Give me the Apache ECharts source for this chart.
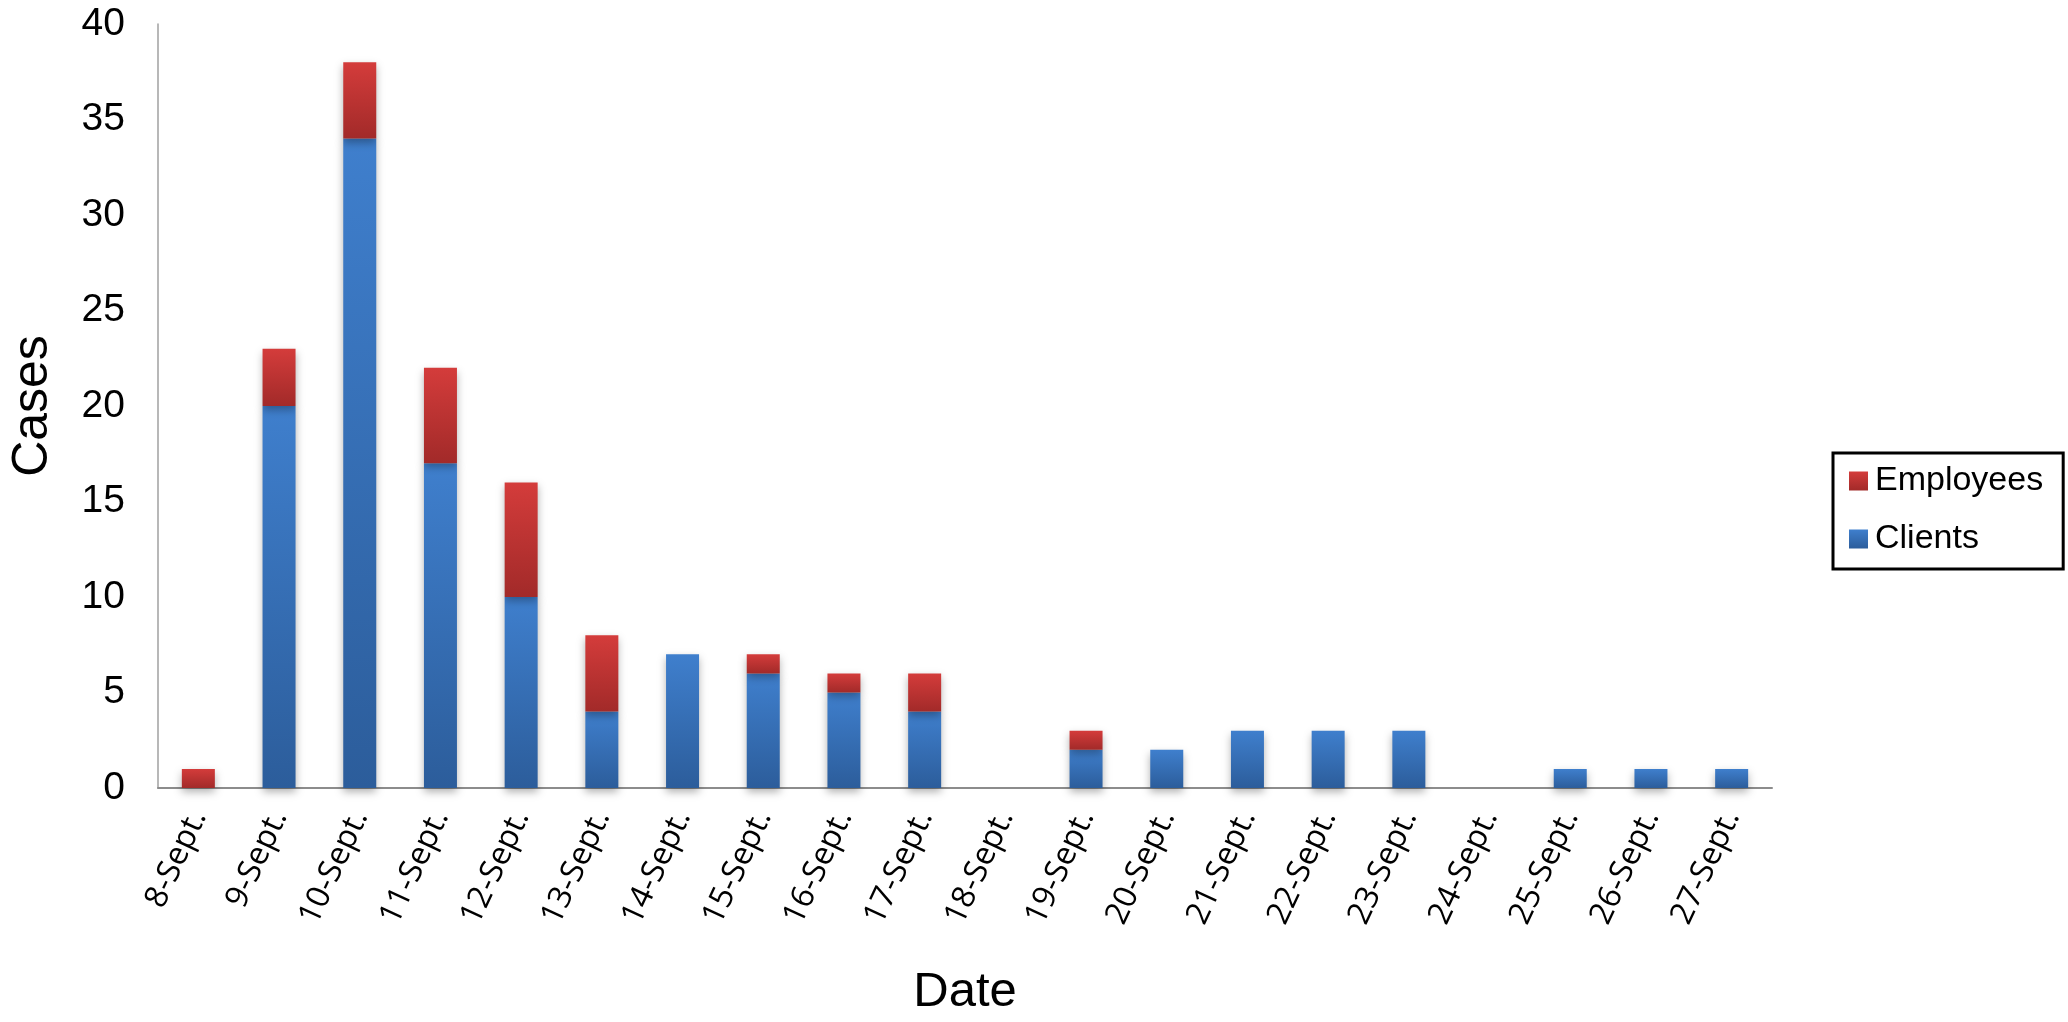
<!DOCTYPE html>
<html>
<head>
<meta charset="utf-8">
<script src="https://cdn.jsdelivr.net/npm/echarts@6/dist/echarts.min.js"></script>
<style>
html,body{margin:0;padding:0;background:#fff;}
#chart{width:2068px;height:1022px;}
</style>
</head>
<body>
<div id="chart"></div>
<script>
const categories = ['8-Sept.','9-Sept.','10-Sept.','11-Sept.','12-Sept.','13-Sept.','14-Sept.','15-Sept.','16-Sept.','17-Sept.','18-Sept.','19-Sept.','20-Sept.','21-Sept.','22-Sept.','23-Sept.','24-Sept.','25-Sept.','26-Sept.','27-Sept.'];
const clients = [0,20,34,17,10,4,7,6,5,4,0,2,2,3,3,3,0,1,1,1];
const employees = [1,3,4,5,6,4,0,1,1,2,0,1,0,0,0,0,0,0,0,0];
const yTicks = [0,5,10,15,20,25,30,35,40];

const chart = echarts.init(document.getElementById('chart'));
function grad(top, bottom){
  return new echarts.graphic.LinearGradient(0,0,0,1,[{offset:0,color:top},{offset:1,color:bottom}]);
}
const blue = grad('#3f7fcd','#2c5d9b');
const red = grad('#d43c3b','#a22a29');
chart.setOption({
  animation:false,
  backgroundColor:'#fff',
  grid:{left:151, top:24, right:296, bottom:229, containLabel:false},
  legend:{
    orient:'vertical', left:1833, top:453, width:231,
    data:['Employees','Clients'],
    icon:'rect', itemWidth:19, itemHeight:19, itemGap:22,
    borderColor:'#000', borderWidth:3, borderRadius:0,
    padding:[10,20,12,16],
    textStyle:{fontFamily:'Liberation Sans', fontSize:34, color:'#000', lineHeight:36, padding:[0,0,0,2]}
  },
  xAxis:{
    type:'category', data:categories,
    axisLine:{lineStyle:{color:'#8c8c8c', width:2}},
    axisTick:{show:false},
    axisLabel:{rotate:65, interval:0, fontFamily:'Open Sans', fontSize:32, color:'#000', margin:24, padding:[14,0,0,0]},
    name:'Date', nameLocation:'middle', nameGap:180,
    nameTextStyle:{fontFamily:'Liberation Sans', fontSize:49, color:'#000'}
  },
  yAxis:{
    type:'value', min:0, max:40, interval:5,
    axisLine:{show:true, lineStyle:{color:'#a0a0a0', width:1.5}},
    axisTick:{show:false},
    splitLine:{show:false},
    axisLabel:{fontFamily:'Liberation Sans', fontSize:39, color:'#000', margin:33,
      formatter:function(v){return yTicks.indexOf(v)>=0 ? String(v) : '';}},
    name:'Cases', nameLocation:'middle', nameGap:100,
    nameTextStyle:{fontFamily:'Liberation Sans', fontSize:50, color:'#000'}
  },
  series:[
    {name:'Clients', type:'bar', stack:'total', data:clients, barWidth:33,
      itemStyle:{color:blue, shadowColor:'rgba(0,0,0,0.3)', shadowBlur:8, shadowOffsetY:4}},
    {name:'Employees', type:'bar', stack:'total', data:employees, barWidth:33,
      itemStyle:{color:red, shadowColor:'rgba(0,0,0,0.3)', shadowBlur:8, shadowOffsetY:4}}
  ]
});
</script>
</body>
</html>
